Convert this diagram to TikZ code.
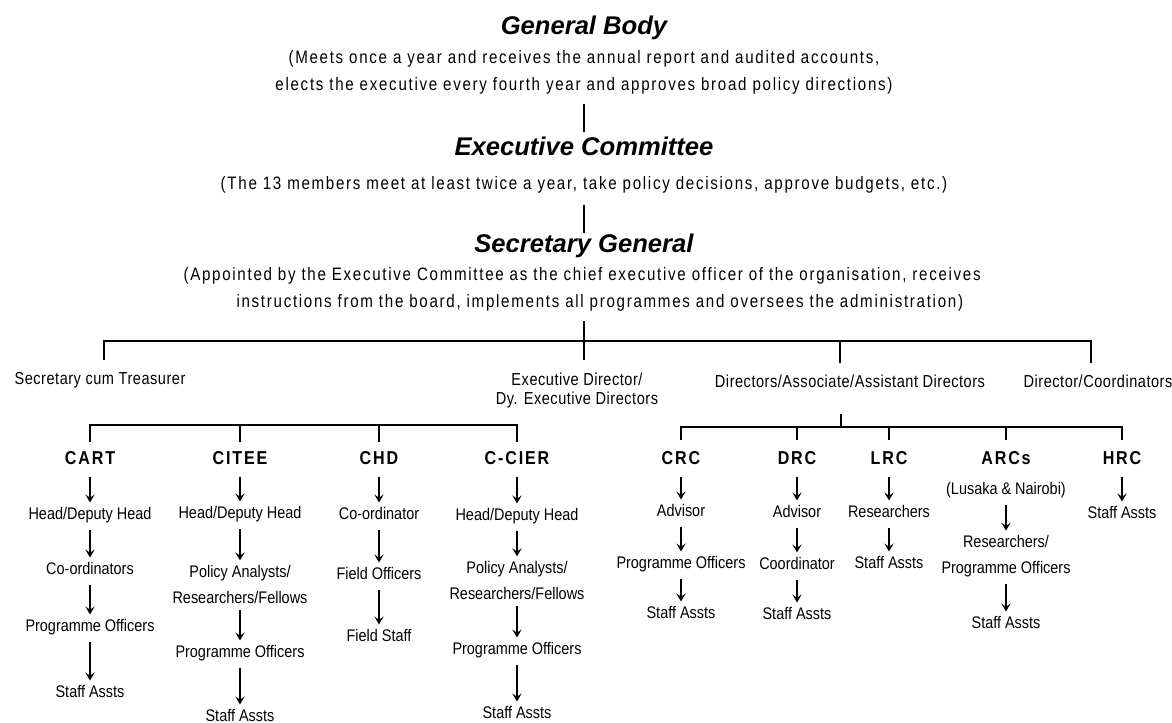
\documentclass[tikz,border=0pt]{standalone}
\usepackage{fontspec}
\setmainfont{Liberation Sans}
\newfontfamily\headfont{Liberation Sans}
\newfontfamily\bodyfont{Liberation Sans}[FakeStretch=0.84,LetterSpace=9.5]
\newfontfamily\midfont{Liberation Sans}[FakeStretch=0.84,LetterSpace=3]
\newfontfamily\itemfont{Liberation Sans}[FakeStretch=0.86]
\newfontfamily\unitfont{Liberation Sans}[FakeStretch=0.86,LetterSpace=10]
\usetikzlibrary{arrows.meta}
\begin{document}
\begin{tikzpicture}[x=0.75pt,y=-0.75pt,line width=0.8pt,
    head/.style={font=\headfont\bfseries\itshape\fontsize{19.2}{22}\selectfont,inner sep=0pt,text height=14pt,text depth=4pt},
    body/.style={font=\bodyfont\fontsize{13.5}{20.25}\selectfont,inner sep=0pt,align=center},
    mid/.style={font=\midfont\fontsize{13}{14.25}\selectfont,inner sep=0pt,align=center},
    unit/.style={font=\unitfont\bfseries\fontsize{14}{16}\selectfont,inner sep=0pt,text height=10.5pt,text depth=4pt},
    post/.style={font=\itemfont\fontsize{12.6}{19.5}\selectfont,inner sep=0pt,text height=9.5pt,text depth=2.5pt},
    posts/.style={font=\itemfont\fontsize{12.6}{19.5}\selectfont,inner sep=0pt,align=center},
    arr/.style={-{Stealth[length=6pt,width=7pt,inset=2.5pt]},shorten <=5pt,shorten >=3pt}]
  \useasboundingbox (0,0) rectangle (1172,723);

  % governing bodies
  \node[head] (gb) at (584,28) {General Body};
  \node[body] (gbnote) at (584,72) {(Meets once a year and receives the annual report and audited accounts,\\
    elects the executive every fourth year and approves broad policy directions)};
  \node[head] (ec) at (584,149) {Executive Committee};
  \node[body,text height=9.5pt,text depth=3pt] (ecnote) at (584,185) {(The 13 members meet at least twice a year, take policy decisions, approve budgets, etc.)};
  \node[head] (sg) at (584,246) {Secretary General};
  \node[body,anchor=west,text height=9.5pt,text depth=3pt] (sgnote1) at (183,276) {(Appointed by the Executive Committee as the chief executive officer of the organisation, receives};
  \node[body,anchor=west,text height=9.5pt,text depth=3pt] (sgnote2) at (236,303) {instructions from the board, implements all programmes and oversees the administration)};

  \draw ([yshift=-7pt]gbnote.south) -- ([yshift=3pt]ec.north);
  \draw ([yshift=-8pt]ecnote.south) -- (sg.north);

  % second level
  \node[mid] (st) at (100,380) {Secretary cum Treasurer};
  \node[mid] (ed) at (577,391) {Executive Director/\\Dy. Executive Directors};
  \node[mid] (dirs) at (850,381) {Directors/Associate/Assistant Directors};
  \node[mid] (dc) at (1098,381) {Director/Coordinators};

  \coordinate (bus) at (584,341);
  \coordinate (dst) at (104,360);
  \coordinate (ddirs) at (840,363);
  \coordinate (ddc) at (1091,363);
  \draw ([yshift=-7pt]sgnote2.south -| sg.south) -- ([yshift=10pt]ed.north -| sg.south);
  \draw (dst) |- (bus) -| (ddc);
  \draw (ddirs) -- (ddirs |- bus);

  % centres under the executive director
  \node[unit] (cart) at (90,460) {CART};
  \node[post] (cart1) at (90,515) {Head/Deputy Head};
  \node[post] (cart2) at (90,570) {Co-ordinators};
  \node[post] (cart3) at (90,627) {Programme Officers};
  \node[post] (cart4) at (90,693) {Staff Assts};

  \node[unit] (citee) at (240,460) {CITEE};
  \node[post] (citee1) at (240,514) {Head/Deputy Head};
  \node[posts] (citee2) at (240,584) {Policy Analysts/\\Researchers/Fellows};
  \node[post] (citee3) at (240,653) {Programme Officers};
  \node[post] (citee4) at (240,717) {Staff Assts};

  \node[unit] (chd) at (379,460) {CHD};
  \node[post] (chd1) at (379,515) {Co-ordinator};
  \node[post] (chd2) at (379,575) {Field Officers};
  \node[post] (chd3) at (379,637) {Field Staff};

  \node[unit] (ccier) at (517,460) {C-CIER};
  \node[post] (ccier1) at (517,516) {Head/Deputy Head};
  \node[posts] (ccier2) at (517,580) {Policy Analysts/\\Researchers/Fellows};
  \node[post] (ccier3) at (517,650) {Programme Officers};
  \node[post] (ccier4) at (517,714) {Staff Assts};

  % regional centres
  \node[unit] (crc) at (681,460) {CRC};
  \node[post] (crc1) at (681,512) {Advisor};
  \node[post] (crc2) at (681,564) {Programme Officers};
  \node[post] (crc3) at (681,614) {Staff Assts};

  \node[unit] (drc) at (797,460) {DRC};
  \node[post] (drc1) at (797,513) {Advisor};
  \node[post] (drc2) at (797,565) {Coordinator};
  \node[post] (drc3) at (797,615) {Staff Assts};

  \node[unit] (lrc) at (889,460) {LRC};
  \node[post] (lrc1) at (889,513) {Researchers};
  \node[post] (lrc2) at (889,564) {Staff Assts};

  \node[unit] (arcs) at (1006,460) {ARCs};
  \node[post] (arcs0) at (1006,490) {(Lusaka \& Nairobi)};
  \node[posts] (arcs1) at (1006,556) {Researchers/\\Programme Officers};
  \node[post] (arcs2) at (1006,624) {Staff Assts};

  \node[unit] (hrc) at (1122,460) {HRC};
  \node[post] (hrc1) at (1122,514) {Staff Assts};

  \coordinate (lbus) at (0,425);
  \coordinate (rbus) at (0,427);
  \coordinate (rtop) at (841,414);
  \draw ([yshift=5.5pt]cart.north) |- (lbus -| ccier.north) -- ([yshift=5.5pt]ccier.north);
  \foreach \u in {citee,chd} \draw ([yshift=5.5pt]\u.north) -- (\u.north |- lbus);
  \draw ([yshift=7.5pt]crc.north) |- (rbus -| hrc.north) -- ([yshift=7.5pt]hrc.north);
  \foreach \u in {drc,lrc,arcs} \draw ([yshift=7.5pt]\u.north) -- (\u.north |- rbus);
  \draw (rtop) -- (rtop |- rbus);

  \foreach \a/\b in {cart/cart1,cart1/cart2,cart2/cart3,cart3/cart4,
      citee/citee1,citee1/citee2,citee2/citee3,citee3/citee4,
      chd/chd1,chd1/chd2,chd2/chd3,
      ccier/ccier1,ccier1/ccier2,ccier2/ccier3,ccier3/ccier4,
      crc/crc1,crc1/crc2,crc2/crc3,
      drc/drc1,drc1/drc2,drc2/drc3,
      lrc/lrc1,lrc1/lrc2,
      arcs0/arcs1,arcs1/arcs2,
      hrc/hrc1}
    \draw[arr] (\a) -- (\b);
\end{tikzpicture}
\end{document}
